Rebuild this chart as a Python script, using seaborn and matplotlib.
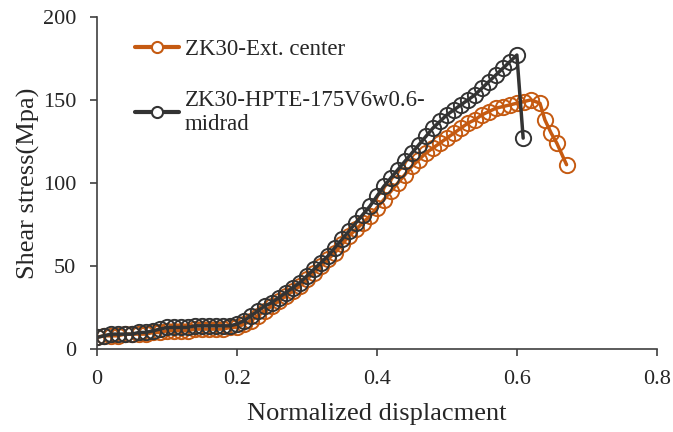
import matplotlib
matplotlib.use("Agg")
import matplotlib.pyplot as plt
from matplotlib.lines import Line2D
import seaborn as sns
import pandas as pd

orange_x = [0.00, 0.01, 0.02, 0.03, 0.04, 0.05, 0.06, 0.07, 0.08, 0.09,
            0.10, 0.11, 0.12, 0.13, 0.14, 0.15, 0.16, 0.17, 0.18, 0.19,
            0.20, 0.21, 0.22, 0.23, 0.24, 0.25, 0.26, 0.27, 0.28, 0.29,
            0.30, 0.31, 0.32, 0.33, 0.34, 0.35, 0.36, 0.37, 0.38, 0.39,
            0.40, 0.41, 0.42, 0.43, 0.44, 0.45, 0.46, 0.47, 0.48, 0.49,
            0.50, 0.51, 0.52, 0.53, 0.54, 0.55, 0.56, 0.57, 0.58, 0.59,
            0.60, 0.61, 0.62, 0.633, 0.64, 0.649, 0.657, 0.671]
orange_y = [7, 8, 8, 8, 9, 9, 9, 9, 10, 10,
            11, 11, 11, 11, 12, 12, 12, 12, 12, 13,
            13, 15, 17, 20, 23, 26, 29, 32, 35, 38,
            42, 46, 50, 54, 58, 63, 68, 72, 76, 80,
            85, 90, 95, 100, 105, 110, 114, 118, 121, 124,
            127, 130, 133, 136, 138, 141, 143, 145, 146, 147,
            148, 149, 150, 148, 138, 130, 124, 111]

black_x = [0.00, 0.01, 0.02, 0.03, 0.04, 0.05, 0.06, 0.07, 0.08, 0.09,
           0.10, 0.11, 0.12, 0.13, 0.14, 0.15, 0.16, 0.17, 0.18, 0.19,
           0.20, 0.21, 0.22, 0.23, 0.24, 0.25, 0.26, 0.27, 0.28, 0.29,
           0.30, 0.31, 0.32, 0.33, 0.34, 0.35, 0.36, 0.37, 0.38, 0.39,
           0.40, 0.41, 0.42, 0.43, 0.44, 0.45, 0.46, 0.47, 0.48, 0.49,
           0.50, 0.51, 0.52, 0.53, 0.54, 0.55, 0.56, 0.57, 0.58, 0.59,
           0.60, 0.609]
black_y = [7, 8, 9, 9, 9, 9, 10, 10, 11, 12,
           13, 13, 13, 13, 14, 14, 14, 14, 14, 14,
           15, 17, 20, 23, 26, 28, 31, 34, 37, 40,
           44, 48, 52, 56, 61, 66, 71, 76, 81, 86,
           92, 98, 103, 108, 113, 118, 123, 128, 133, 137,
           141, 144, 147, 150, 153, 157, 161, 165, 169, 173,
           177, 127]

labels = ["ZK30-Ext. center", "ZK30-HPTE-175V6w0.6-\nmidrad"]
colors = ["#C55A11", "#333333"]
x_ticks = [0, 0.2, 0.4, 0.6, 0.8]
x_tick_labels = ["0", "0.2", "0.4", "0.6", "0.8"]
y_ticks = [0, 50, 100, 150, 200]

sns.set_theme(style="white")
plt.rcParams["font.family"] = ["Liberation Serif", "DejaVu Serif"]

fig = plt.figure(figsize=(6.73, 4.32), dpi=100)
ax = fig.add_axes([0.144, 0.192, 0.832, 0.769])

df_o = pd.DataFrame({"x": orange_x, "y": orange_y})
df_b = pd.DataFrame({"x": black_x, "y": black_y})

sns.lineplot(data=df_o, x="x", y="y", ax=ax, color=colors[0], linewidth=2.5,
             marker="o", markersize=11, markerfacecolor="none",
             markeredgecolor=colors[0], markeredgewidth=1.4, sort=False,
             estimator=None)
sns.lineplot(data=df_b, x="x", y="y", ax=ax, color=colors[1], linewidth=2.5,
             marker="o", markersize=11, markerfacecolor="none",
             markeredgecolor=colors[1], markeredgewidth=1.4, sort=False,
             estimator=None)

ax.set_xlim(0, 0.8)
ax.set_ylim(0, 200)
ax.set_xticks(x_ticks)
ax.set_xticklabels(x_tick_labels)
ax.set_yticks(y_ticks)
ax.tick_params(axis="both", labelsize=16, colors="#262626", length=5,
               direction="out", bottom=True, left=True, width=1.2, color="#404040")
ax.tick_params(axis="x", pad=10)
ax.tick_params(axis="y", pad=10)
ax.set_xlabel("Normalized displacment", fontsize=19, color="#262626", labelpad=10)
ax.set_ylabel("Shear stress(Mpa)", fontsize=19, color="#262626", labelpad=2)

for s in ["top", "right"]:
    ax.spines[s].set_visible(False)
for s in ["left", "bottom"]:
    ax.spines[s].set_color("#404040")
    ax.spines[s].set_linewidth(1.2)

handles = [Line2D([0], [0], color=c, linewidth=3, marker="o", markersize=8,
                  markerfacecolor="white", markeredgecolor=c, markeredgewidth=1.5)
           for c in colors]
leg = ax.legend(handles, labels, loc="upper left", bbox_to_anchor=(0.032, 0.996),
                frameon=False, fontsize=16.5, handlelength=1.9, handletextpad=0.25,
                labelspacing=1.3)
for t in leg.get_texts():
    t.set_color("#262626")

fig.savefig("out.png", dpi=100)
